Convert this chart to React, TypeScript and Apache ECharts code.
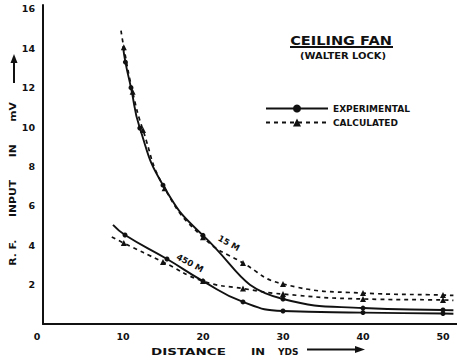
import React, { useEffect, useRef } from "react";
import * as echarts from "echarts";

// Distance (yds) and R.F. input (mV) for the 15 M and 450 M signals.
// The first and last point of each run are where the pen line starts / ends.
const DIST_15M_EXP = [10.0, 10.3, 11.0, 12.1, 15, 20, 30, 40, 50, 51.3];
const RF_15M_EXP = [14.1, 13.3, 12.0, 9.95, 7.05, 4.5, 1.27, 0.81, 0.71, 0.7];

const DIST_15M_CALC = [9.75, 10.1, 11.2, 12.5, 15.2, 20, 25, 30, 40, 50, 51.3];
const RF_15M_CALC = [14.9, 14.05, 11.8, 9.85, 6.9, 4.4, 3.1, 2.03, 1.57, 1.47, 1.45];

const DIST_450M_EXP = [8.75, 10.25, 15.5, 20, 25, 30, 40, 50, 51.3];
const RF_450M_EXP = [5.03, 4.52, 3.3, 2.18, 1.12, 0.66, 0.58, 0.53, 0.52];

const DIST_450M_CALC = [8.6, 10.1, 15, 20, 25, 30, 40, 50, 51.3];
const RF_450M_CALC = [4.42, 4.11, 3.15, 2.18, 1.8, 1.52, 1.27, 1.22, 1.2];

const X_TICKS = [0, 10, 20, 30, 40, 50];
const Y_TICKS = [2, 4, 6, 8, 10, 12, 14, 16];

const INK = "#111";
const FONT = "DejaVu Sans";

function runData(xs: number[], ys: number[]) {
  return xs.map((x, i) => {
    const item: any = { value: [x, ys[i]] };
    if (i === 0 || i === xs.length - 1) item.symbol = "none";
    return item;
  });
}

function expSeries(xs: number[], ys: number[]) {
  return {
    type: "line",
    name: "EXPERIMENTAL",
    data: runData(xs, ys),
    smooth: 0.5,
    symbol: "circle",
    symbolSize: 5,
    showAllSymbol: true,
    lineStyle: { color: INK, width: 1.9 },
    itemStyle: { color: INK },
    emphasis: { disabled: true },
  };
}

function calcSeries(xs: number[], ys: number[]) {
  return {
    type: "line",
    name: "CALCULATED",
    data: runData(xs, ys),
    smooth: 0.5,
    symbol: "triangle",
    symbolSize: 6,
    showAllSymbol: true,
    lineStyle: { color: INK, width: 1.7, type: [4, 4] },
    itemStyle: { color: INK },
    emphasis: { disabled: true },
  };
}

const labelText = { fontFamily: FONT, fontWeight: "bold" as const, fill: INK };

export default function App() {
  const ref = useRef<HTMLDivElement>(null);

  useEffect(() => {
    if (!ref.current) return;
    const chart = echarts.init(ref.current, null, { renderer: "svg" });
    chart.setOption({
      animation: false,
      backgroundColor: "#fff",
      grid: { left: 43, right: 0, top: 5, bottom: 38, outerBoundsMode: "none" },
      legend: {
        data: ["EXPERIMENTAL", "CALCULATED"],
        orient: "vertical",
        left: 260,
        top: 99,
        itemWidth: 62,
        itemHeight: 10,
        itemGap: 5,
        selectedMode: false,
        textStyle: {
          fontFamily: FONT,
          fontWeight: "bold",
          fontSize: 9,
          color: INK,
        },
      },
      xAxis: {
        type: "value",
        min: 0,
        max: 51.75,
        interval: 10,
        axisLine: { show: true, lineStyle: { color: INK, width: 2 } },
        axisTick: { show: false },
        splitLine: { show: false },
        axisLabel: {
          margin: 7,
          fontFamily: FONT,
          fontWeight: "bold",
          fontSize: 9.5,
          color: INK,
          formatter: (v: number) => {
            if (!X_TICKS.includes(v)) return "";
            return v === 0 ? "{z|0}" : String(v);
          },
          rich: {
            z: {
              fontFamily: FONT,
              fontWeight: "bold",
              fontSize: 9.5,
              color: INK,
              padding: [0, 12, 0, 0],
            },
          },
        },
      },
      yAxis: {
        type: "value",
        min: 0,
        max: 16.2,
        interval: 2,
        axisLine: { show: true, lineStyle: { color: INK, width: 2 } },
        axisTick: { show: false },
        splitLine: { show: false },
        axisLabel: {
          margin: 8,
          fontFamily: FONT,
          fontWeight: "bold",
          fontSize: 9.5,
          color: INK,
          formatter: (v: number) => (Y_TICKS.includes(v) ? String(v) : ""),
        },
      },
      series: [
        expSeries(DIST_15M_EXP, RF_15M_EXP),
        calcSeries(DIST_15M_CALC, RF_15M_CALC),
        expSeries(DIST_450M_EXP, RF_450M_EXP),
        calcSeries(DIST_450M_CALC, RF_450M_CALC),
      ],
      graphic: [
        // title block
        {
          type: "text",
          x: 341,
          y: 40,
          scaleX: 1.12,
          style: { ...labelText, text: "CEILING FAN", fontSize: 13, align: "center", verticalAlign: "middle" },
        },
        {
          type: "line",
          shape: { x1: 290, y1: 47, x2: 393, y2: 47 },
          style: { stroke: INK, lineWidth: 2 },
        },
        {
          type: "text",
          x: 343,
          y: 56,
          scaleX: 1.17,
          style: { ...labelText, text: "(WALTER LOCK)", fontSize: 8.5, align: "center", verticalAlign: "middle" },
        },
        // vertical axis title with its arrow
        {
          type: "text",
          x: 13,
          y: 184,
          rotation: Math.PI / 2,
          scaleX: 1.2,
          style: {
            ...labelText,
            text: "R. F.      INPUT      IN      mV",
            fontSize: 9,
            align: "center",
            verticalAlign: "middle",
          },
        },
        {
          type: "line",
          shape: { x1: 14, y1: 83, x2: 14, y2: 60 },
          style: { stroke: INK, lineWidth: 2 },
        },
        {
          type: "polygon",
          shape: { points: [[10.5, 63], [17.5, 63], [14, 54]] },
          style: { fill: INK },
        },
        // horizontal axis title with its arrow
        {
          type: "text",
          x: 151,
          y: 352,
          scaleX: 1.5,
          style: { ...labelText, text: "DISTANCE", fontSize: 9, align: "left", verticalAlign: "middle" },
        },
        {
          type: "text",
          x: 251,
          y: 352,
          scaleX: 1.3,
          style: { ...labelText, text: "IN", fontSize: 9, align: "left", verticalAlign: "middle" },
        },
        {
          type: "text",
          x: 278,
          y: 352,
          scaleX: 1.0,
          style: { ...labelText, text: "YDS", fontSize: 9, align: "left", verticalAlign: "middle" },
        },
        {
          type: "line",
          shape: { x1: 307, y1: 349.5, x2: 358, y2: 349.5 },
          style: { stroke: INK, lineWidth: 2 },
        },
        {
          type: "polygon",
          shape: { points: [[355, 346], [355, 353], [365, 349.5]] },
          style: { fill: INK },
        },
        // curve names
        {
          type: "text",
          x: 229,
          y: 243,
          rotation: -0.5,
          style: { ...labelText, text: "15 M", fontSize: 8.5, align: "center", verticalAlign: "middle" },
        },
        {
          type: "text",
          x: 190,
          y: 263,
          rotation: -0.5,
          style: { ...labelText, text: "450 M", fontSize: 8.5, align: "center", verticalAlign: "middle" },
        },
      ],
    });
    return () => chart.dispose();
  }, []);

  return (
    <div
      ref={ref}
      style={{ position: "absolute", left: 0, top: 0, width: 457, height: 362, background: "#fff" }}
    />
  );
}
